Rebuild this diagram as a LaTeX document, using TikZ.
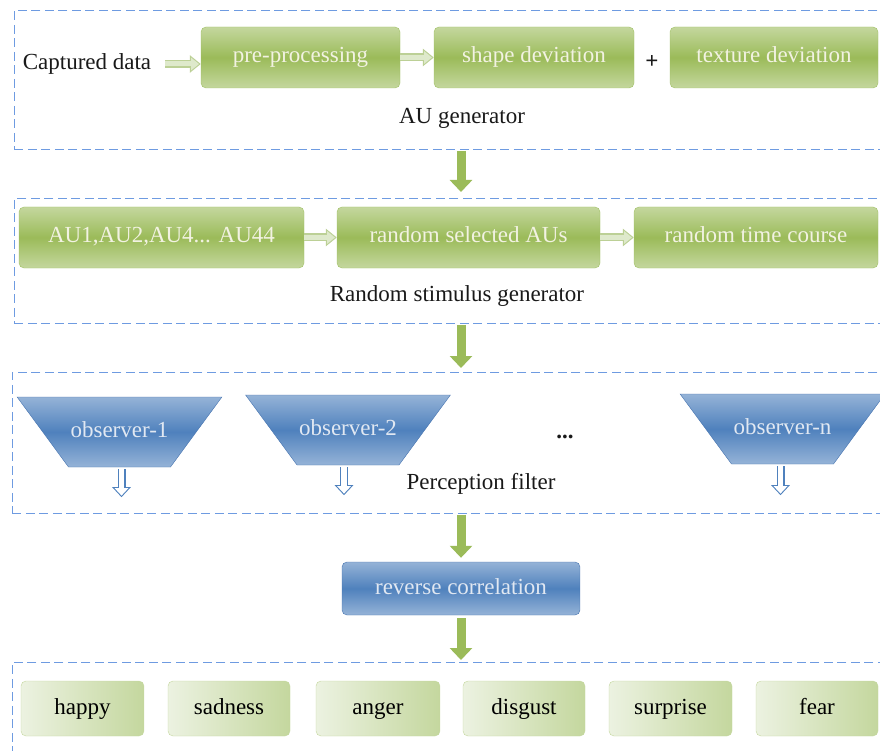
\documentclass[tikz,border=0pt]{standalone}
\usepackage{fontspec}
\setmainfont{Liberation Serif}
\usepackage{tikz}
\usetikzlibrary{calc, shapes, arrows.meta, positioning}
\definecolor{framecol}{RGB}{110,155,225}
\definecolor{greenlight}{RGB}{196,215,158}
\definecolor{greendark}{RGB}{155,187,89}
\definecolor{greenedge}{RGB}{160,192,100}
\definecolor{greentext}{RGB}{242,242,226}
\definecolor{bluelight}{RGB}{149,179,215}
\definecolor{bluedark}{RGB}{79,129,189}
\definecolor{blueedge}{RGB}{70,115,175}
\definecolor{bluetext}{RGB}{225,232,242}
\definecolor{emolight}{RGB}{236,242,225}
\definecolor{emodark}{RGB}{196,215,158}
\definecolor{hollowedge}{RGB}{188,208,150}
\definecolor{hollowfill}{RGB}{222,233,203}
\newcommand{\diagfont}{\fontsize{23}{27}\selectfont}
\tikzset{
    framenode/.style = {draw=framecol, rectangle, dash pattern=on 9pt off 4.5pt, line width=0.9pt,
      anchor=north west, inner sep=0pt, minimum width=875pt},
    greennode/.style = {draw=greenedge, rectangle, rounded corners=0.5em, inner sep=0pt,
      top color=greenlight, bottom color=greenlight, middle color=greendark, text=greentext,
      minimum height=61pt, text height=16pt, text depth=5pt, font=\diagfont},
    bluenode/.style = {draw=blueedge, rectangle, rounded corners=0.5em, inner sep=0pt,
      top color=bluelight, bottom color=bluelight, middle color=bluedark, text=bluetext,
      minimum height=53pt, text height=16pt, text depth=5pt, font=\diagfont},
    obsnode/.style = {trapezium, shape border rotate=180, trapezium angle=53.7, draw=blueedge,
      top color=bluelight, bottom color=bluelight, middle color=bluedark, text=bluetext,
      text width=102pt, align=center, inner xsep=0pt, inner ysep=24.5pt,
      text height=16pt, text depth=5pt, font=\diagfont},
    emonode/.style = {draw=greenlight, rectangle, rounded corners=0.5em, inner sep=0pt,
      left color=emolight, right color=emodark, text=black,
      minimum height=55pt, text height=16pt, text depth=5pt, font=\diagfont},
    textnode/.style = {draw=none, fill=none, rectangle, inner sep=0pt, text=black!90, font=\diagfont},
    bigarrow/.style = {draw=greendark, line width=9pt, -{Triangle[width=22pt,length=12pt]}},
    hollowarrow/.style = {draw=hollowedge, line width=8pt, -{Triangle[width=17pt,length=11pt]},
      postaction={draw=hollowfill, line width=5pt, shorten >=1.8pt, -{Triangle[width=12pt,length=7.8pt]}}},
    smallarrow/.style = {draw=bluedark, line width=8pt, -{Triangle[width=18pt,length=10pt]},
      postaction={draw=white, line width=5.6pt, shorten >=1.6pt, -{Triangle[width=13.5pt,length=7.5pt]}}}
}
\begin{document}
\begin{tikzpicture}[x=1pt, y=-1pt]
    \useasboundingbox (0,0) rectangle (880,751);

    % dashed frames of the four stages
    \node [framenode, name=fau, minimum height=139pt] at (14,10) {};
    \node [framenode, name=frs, minimum height=125pt] at (14,198) {};
    \node [framenode, name=fpf, minimum height=141pt] at (12,372) {};
    \node [framenode, name=fem, minimum height=110pt] at (12,662) {};

    % AU generator
    \node [textnode, name=capt] at (87,64) {Captured data};
    \node [greennode, name=pre, minimum width=199pt] at (300.5,57.5) {pre-processing};
    \node [greennode, name=shape, minimum width=200pt] at (534,57.5) {shape deviation};
    \node [textnode, name=plus] at (652,62) {\textbf{+}};
    \node [greennode, name=texture, minimum width=208pt] at (774,57.5) {texture deviation};
    \node [textnode, name=aulab] at (462,118) {AU generator};

    \draw [hollowarrow] ($(capt.east)+(14,0)$) -- (pre.west |- capt.east);
    \draw [hollowarrow] (pre) -- (shape);

    % random stimulus generator
    \node [greennode, name=aus, minimum width=285pt] at (161.5,237.5) {AU1,AU2,AU4... AU44};
    \node [greennode, name=rsel, minimum width=263pt] at (468.5,237.5) {random selected AUs};
    \node [greennode, name=rtime, minimum width=244pt] at (756,237.5) {random time course};
    \node [textnode, name=rslab] at (457,296) {Random stimulus generator};

    \draw [hollowarrow] (aus) -- (rsel);
    \draw [hollowarrow] (rsel) -- (rtime);

    % perception filter
    \node [obsnode, name=obs1] at (119.5,432) {observer-1};
    \node [obsnode, name=obs2] at (348,430) {observer-2};
    \node [obsnode, name=obsn] at (782.5,429) {observer-n};
    \node [textnode, name=dots] at (565,437) {\textbf{...}};
    \node [textnode, name=pflab] at (481,484) {Perception filter};

    \coordinate (o1end) at ($(obs1.south)+(2,30)$);
    \coordinate (o2end) at ($(obs2.south)+(-4,30)$);
    \coordinate (onend) at ($(obsn.south)+(-2,31)$);
    \draw [smallarrow] ($(obs1.south)+(2,2)$) -- (o1end);
    \draw [smallarrow] ($(obs2.south)+(-4,2)$) -- (o2end);
    \draw [smallarrow] ($(obsn.south)+(-2,2)$) -- (onend);

    % reverse correlation
    \node [bluenode, name=rc, minimum width=238pt] at (461,588.5) {reverse correlation};

    % emotions
    \node [emonode, name=happy, minimum width=123pt] at (82.5,708.5) {happy};
    \node [emonode, name=sad, minimum width=122pt] at (229,708.5) {sadness};
    \node [emonode, name=anger, minimum width=124pt] at (378,708.5) {anger};
    \node [emonode, name=disgust, minimum width=122pt] at (524,708.5) {disgust};
    \node [emonode, name=surprise, minimum width=123pt] at (670.5,708.5) {surprise};
    \node [emonode, name=fear, minimum width=122pt] at (817,708.5) {fear};

    \draw [bigarrow, shorten <=1pt, shorten >=6pt] (fau.south -| rc) -- (frs.north -| rc);
    \draw [bigarrow, shorten <=1pt, shorten >=4pt] (frs.south -| rc) -- (fpf.north -| rc);
    \draw [bigarrow, shorten <=1pt, shorten >=4pt] (fpf.south -| rc) -- (rc.north);
    \draw [bigarrow, shorten <=3pt, shorten >=2pt] (rc.south) -- (fem.north -| rc);
\end{tikzpicture}
\end{document}
